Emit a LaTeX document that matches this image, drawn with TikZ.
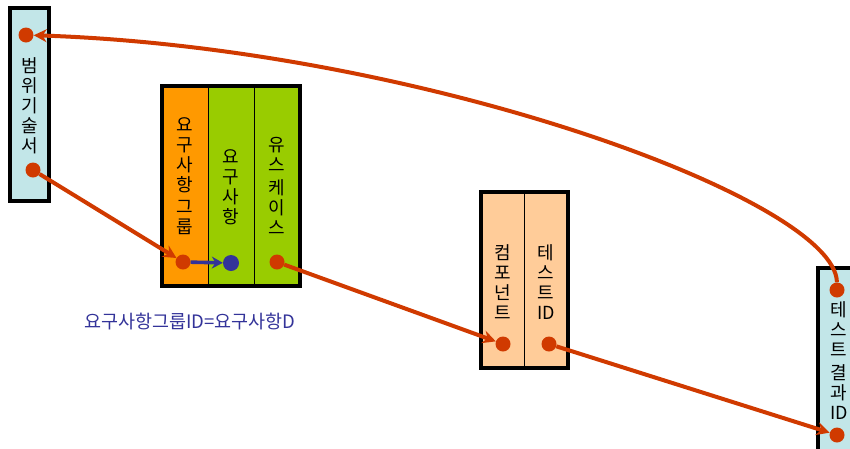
\documentclass[tikz,border=0pt]{standalone}
\usepackage{fontspec}
\newfontfamily\kr{Noto Sans CJK KR}
\usetikzlibrary{arrows.meta,positioning}

\definecolor{scopecyan}{HTML}{C2E6E8}
\definecolor{grporange}{HTML}{FF9900}
\definecolor{reqgreen}{HTML}{99CC00}
\definecolor{comppeach}{HTML}{FFCC99}
\definecolor{linkred}{HTML}{D03A00}
\definecolor{idblue}{HTML}{333399}

\tikzset{
  col/.style={draw=black, line width=1pt, inner sep=0pt, outer sep=0pt},
  frame/.style={draw=black, line width=3.6pt},
  vtext/.style={font=\kr\fontsize{18}{20}\selectfont, align=center, inner sep=0pt},
  dot/.style={circle, fill=linkred, inner sep=0pt, minimum width=15pt},
  link/.style={draw=linkred, line width=4pt, -{Stealth[length=13pt,width=13pt]}},
}

\begin{document}
\begin{tikzpicture}[x=1pt, y=-1pt]
  \useasboundingbox (0,0) rectangle (850,448);
  \clip (0,0) rectangle (850,448);

  % scope description
  \node[col, fill=scopecyan, minimum width=39pt, minimum height=193pt] (scope) at (29.5,104.5) {};
  \draw[frame] (scope.north west) rectangle (scope.south east);
  \node[vtext] (scopetxt) at (30,106) {범\\위\\기\\술\\서};
  \node[dot] (s-top) at (26,35) {};
  \node[dot] (s-bot) at (33,170) {};

  % requirement group / requirement / use case
  \node[col, fill=grporange, minimum width=46pt, minimum height=200pt] (g1) at (185,186) {};
  \node[col, fill=reqgreen, minimum width=46pt, minimum height=200pt, right=0pt of g1] (g2) {};
  \node[col, fill=reqgreen, minimum width=46pt, minimum height=200pt, right=0pt of g2] (g3) {};
  \draw[frame] (g1.north west) rectangle (g3.south east);
  \node[vtext] (g1txt) at (185,176) {요\\구\\사\\항\\[2pt]그\\룹};
  \node[vtext] (g2txt) at (231,187) {요\\구\\사\\항};
  \node[vtext] (g3txt) at (277,186) {유\\스\\[3pt]케\\이\\스};
  \node[dot] (d-grp) at (183,262) {};
  \node[dot, fill=idblue, minimum width=16pt] (d-req) at (231,263) {};
  \node[dot] (d-uc) at (277,262) {};

  \node[font=\kr\fontsize{18.5}{20}\selectfont, text=idblue, inner sep=0pt] (rule) at (190,322) {요구사항그룹ID=요구사항D};

  % component / test id
  \node[col, fill=comppeach, minimum width=43pt, minimum height=176pt] (c1) at (502.5,280) {};
  \node[col, fill=comppeach, minimum width=44pt, minimum height=176pt, right=0pt of c1] (c2) {};
  \draw[frame] (c1.north west) rectangle (c2.south east);
  \node[vtext] (c1txt) at (503,282) {컴\\포\\넌\\트};
  \node[vtext] (c2txt) at (546,282) {테\\스\\트\\ID};
  \node[dot] (d-comp) at (503,344) {};
  \node[dot] (d-test) at (549,344) {};

  % test result id
  \node[col, fill=scopecyan, minimum width=46pt, minimum height=210pt] (res) at (841,373) {};
  \draw[frame] (res.north west) rectangle (res.south east);
  \node[vtext] (restxt) at (839,361) {테\\스\\트\\[3pt]결\\과\\ID};
  \node[dot] (r-top) at (837,290) {};
  \node[dot] (r-bot) at (837,435) {};

  % links
  \draw[link] (s-bot) -- (d-grp);
  \draw[draw=idblue, line width=3.6pt, -{Stealth[length=11pt,width=12pt]}] (d-grp) -- (d-req);
  \draw[link] (d-uc) -- (d-comp);
  \draw[link] (d-test) -- (r-bot);
  \draw[link] (r-top) .. controls (836,200) and (420,48) .. (s-top);
\end{tikzpicture}
\end{document}
